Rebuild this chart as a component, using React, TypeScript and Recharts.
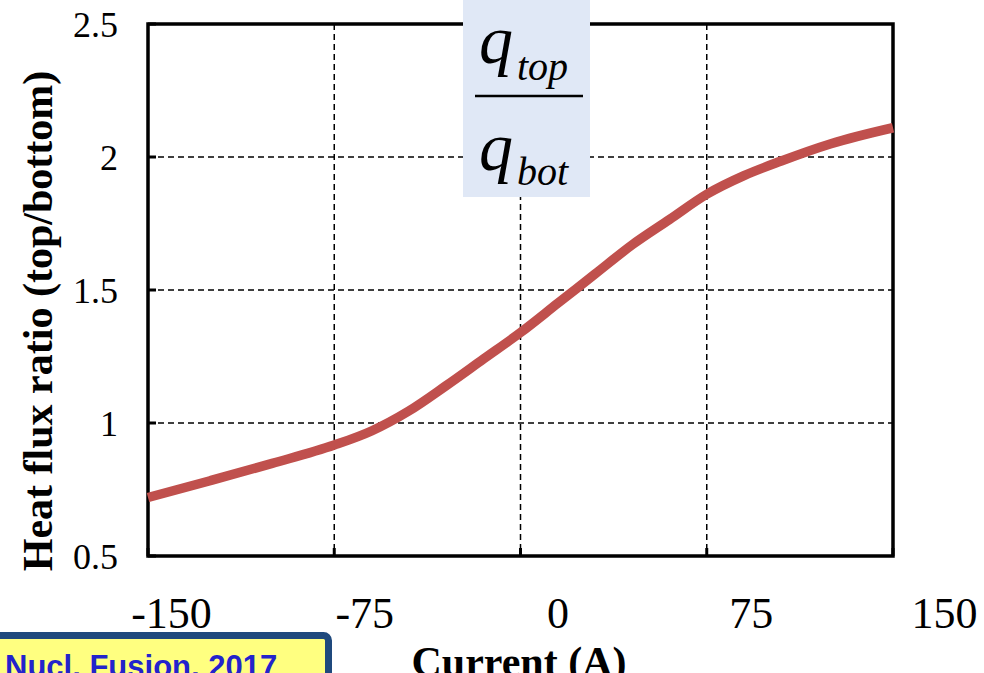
import React from 'react';
import { LineChart, Line, XAxis, YAxis, CartesianGrid, ReferenceArea } from 'recharts';

const currents = [-150, -125, -100, -75, -60, -45, -30, -15, 0, 15, 30, 45, 60, 75, 90, 105, 125, 150];
const ratios = [0.72, 0.783, 0.848, 0.917, 0.97, 1.045, 1.14, 1.24, 1.34, 1.45, 1.56, 1.67, 1.765, 1.86, 1.93, 1.985, 2.05, 2.11];
const xTicks = [-150, -75, 0, 75, 150];
const yTicks = [0.5, 1, 1.5, 2, 2.5];
const xTitle = 'Current (A)';
const yTitle = 'Heat flux ratio (top/bottom)';
const sourceNote = 'Nucl. Fusion, 2017';

const data = currents.map((c, i) => ({ current: c, ratio: ratios[i] }));

const SERIF = '"Liberation Serif", "Times New Roman", serif';
const SANS = '"Liberation Sans", Arial, sans-serif';

const XTick = (props: any) => {
  const { x, y, payload } = props;
  const dx = 23.5 + (x - 146.5) * 0.0375;
  return (
    <text x={x + dx} y={y} dy="0.71em" textAnchor="middle" fontFamily={SERIF} fontSize={44} fill="#000">
      {String(payload.value)}
    </text>
  );
};

const YTick = (props: any) => {
  const { x, y, payload } = props;
  return (
    <text x={x} y={y} dy="0.35em" textAnchor="end" fontFamily={SERIF} fontSize={36} fill="#000">
      {String(payload.value)}
    </text>
  );
};

const renderXLabel = () => (
  <text x={519} y={676} textAnchor="middle" fontFamily={SERIF} fontWeight="bold" fontSize={42} fill="#000">
    {xTitle}
  </text>
);

const renderYLabel = () => (
  <text
    x={52}
    y={321}
    textAnchor="middle"
    transform="rotate(-90 52 321)"
    fontFamily={SERIF}
    fontWeight="bold"
    fontSize={42}
    fill="#000"
  >
    {yTitle}
  </text>
);

export default function App() {
  return (
    <div style={{ position: 'absolute', left: 0, top: 0, width: 984, height: 673, overflow: 'hidden', background: '#fff' }}>
      <LineChart width={984} height={673} data={data} margin={{ top: 24, right: 91, bottom: 0, left: 0 }}>
        <CartesianGrid stroke="#000" strokeWidth={1.5} strokeDasharray="6 4" />
        <XAxis
          dataKey="current"
          type="number"
          domain={[-150, 150]}
          ticks={xTicks}
          height={117}
          axisLine={false}
          tickLine={{ stroke: '#000', strokeWidth: 3 }}
          tickSize={-8}
          tickMargin={49}
          tick={<XTick />}
          interval={0}
          label={renderXLabel}
        />
        <YAxis
          type="number"
          domain={[0.5, 2.5]}
          ticks={yTicks}
          width={148}
          axisLine={false}
          tickLine={{ stroke: '#000', strokeWidth: 3 }}
          tickSize={-8}
          tickMargin={38}
          tick={<YTick />}
          interval={0}
          label={renderYLabel}
        />
        <Line
          dataKey="ratio"
          type="monotone"
          stroke="#C0504D"
          strokeWidth={9.5}
          dot={false}
          activeDot={false}
          isAnimationActive={false}
        />
        <ReferenceArea x1={-150} x2={150} y1={0.5} y2={2.5} fill="none" stroke="#000" strokeWidth={3.5} ifOverflow="visible" />
      </LineChart>
      <svg width={984} height={673} style={{ position: 'absolute', left: 0, top: 0, pointerEvents: 'none' }}>
        <rect x={463} y={0} width={127} height={197} fill="#E0E8F6" />
        <text x={479} y={63} fontFamily={SERIF} fontStyle="italic" fontSize={68} fill="#000">q</text>
        <text x={517} y={80} fontFamily={SERIF} fontStyle="italic" fontSize={40} fill="#000">top</text>
        <line x1={475} x2={583} y1={96} y2={96} stroke="#000" strokeWidth={2.5} />
        <text x={479} y={170} fontFamily={SERIF} fontStyle="italic" fontSize={68} fill="#000">q</text>
        <text x={517} y={185} fontFamily={SERIF} fontStyle="italic" fontSize={40} fill="#000">bot</text>
        <rect x={-10} y={635.5} width={338.5} height={60} rx={5} fill="#FFFF80" stroke="#1F497D" strokeWidth={7} />
        <text x={5} y={677} fontFamily={SANS} fontWeight="bold" fontSize={31} fill="#2323CC">{sourceNote}</text>
      </svg>
    </div>
  );
}
